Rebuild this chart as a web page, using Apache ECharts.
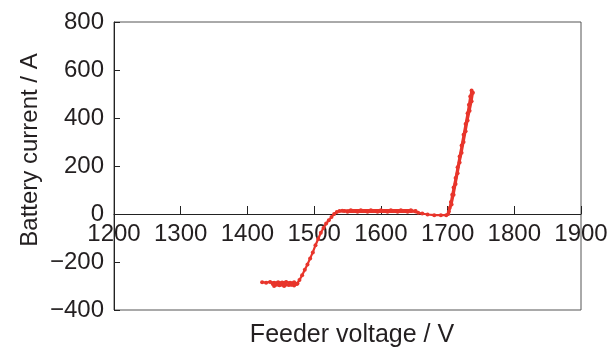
<!DOCTYPE html>
<html>
<head>
<meta charset="utf-8">
<script src="https://cdn.jsdelivr.net/npm/echarts@6/dist/echarts.min.js"></script>
<style>html,body{margin:0;padding:0;background:#fff;}#c{width:612px;height:349px;}</style>
</head>
<body>
<div id="c"></div>
<script>
var xTicks = [1200, 1300, 1400, 1500, 1600, 1700, 1800, 1900];
var yTicks = [-400, -200, 0, 200, 400, 600, 800];
var voltage = [1422,1428,1434,1440,1446,1452,1458,1464,1470,1475,1470,1462,1455,1448,1440,1438,1446,1456,1466,1474,1478,1482,1486,1490,1494,1498,1502,1506,1510,1514,1518,1522,1526,1530,1534,1538,1545,1555,1565,1575,1585,1595,1605,1615,1625,1635,1645,1652,1645,1630,1615,1600,1585,1570,1555,1542,1550,1565,1580,1595,1610,1625,1640,1652,1656,1662,1670,1680,1690,1698,1701,1703,1705,1707,1709,1712,1715,1718,1721,1724,1727,1730,1732,1734,1736,1738,1736,1733,1730,1727,1724,1721,1718,1715,1712,1709,1706,1702];
var current = [-284,-286,-283,-286,-284,-285,-283,-286,-284,-290,-298,-296,-300,-297,-300,-292,-290,-293,-295,-292,-275,-255,-232,-210,-185,-160,-130,-104,-78,-58,-40,-26,-13,0,8,12,12,12,12,12,12,12,12,12,12,12,12,12,16,16,16,16,16,16,16,14,9,9,9,9,9,9,9,10,5,2,-2,-5,-5,-5,0,25,50,80,110,150,195,240,285,330,375,420,455,490,515,505,470,430,390,345,300,255,215,170,125,80,40,10];
var xTitle = 'Feeder voltage / V';
var yTitle = 'Battery current / A';

var pts = voltage.map(function(v, i){ return [v, current[i]]; });
var chart = echarts.init(document.getElementById('c'));
var textColor = '#231f20';
var gridTop = 22, gridBottomPx = 310;
var zeroOffset = -(gridBottomPx - gridTop) * (0 - yTicks[0]) / (yTicks[yTicks.length-1] - yTicks[0]);
chart.setOption({
  animation: false,
  grid: {left: 114, right: 31, top: gridTop, bottom: 349 - gridBottomPx, show: true, borderColor: '#555', borderWidth: 1},
  xAxis: {
    type: 'value', min: xTicks[0], max: xTicks[xTicks.length-1], interval: 100,
    offset: zeroOffset,
    axisLine: {show: true, onZero: false, lineStyle: {color: '#222', width: 1}},
    axisTick: {show: true, inside: true, length: 8, lineStyle: {color: '#222'}},
    axisLabel: {fontFamily: 'Liberation Sans Narrow, Arial Narrow, sans-serif', fontSize: 24, color: textColor, margin: 8,
      formatter: function(v){ return String(v); }},
    splitLine: {show: false}
  },
  yAxis: {
    type: 'value', min: yTicks[0], max: yTicks[yTicks.length-1], interval: 200,
    axisLine: {show: true, lineStyle: {color: '#222', width: 1}},
    axisTick: {show: true, inside: true, length: 6, lineStyle: {color: '#222'}},
    axisLabel: {fontFamily: 'Liberation Sans, Arial, sans-serif', fontSize: 24, color: textColor, margin: 10,
      formatter: function(v){ return v < 0 ? '\u2212' + Math.abs(v) : String(v); }},
    splitLine: {show: false}
  },
  graphic: [
    {type: 'text', x: 30, y: 150, rotation: Math.PI/2,
     style: {text: yTitle, font: '24px "Liberation Sans", Arial, sans-serif', fill: textColor, textAlign: 'center', textVerticalAlign: 'middle'}},
    {type: 'text', x: 352, y: 335,
     style: {text: xTitle, font: '25px "Liberation Sans", Arial, sans-serif', fill: textColor, textAlign: 'center', textVerticalAlign: 'middle'}}
  ],
  series: [{
    type: 'line', data: pts, showSymbol: true, symbol: 'circle', symbolSize: 4,
    itemStyle: {color: '#e8352b'}, lineStyle: {color: '#e8352b', width: 2.2}
  }]
});
</script>
</body>
</html>
